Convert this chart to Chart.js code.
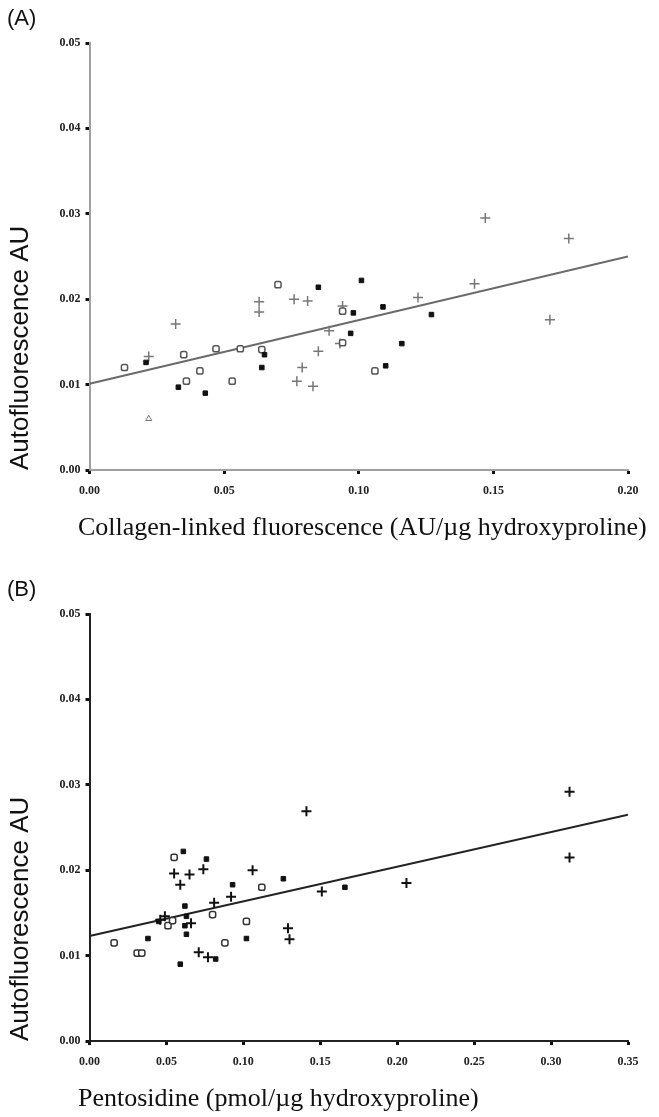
<!DOCTYPE html>
<html>
<head>
<meta charset="utf-8">
<script src="https://cdn.jsdelivr.net/npm/chart.js@4.4.1/dist/chart.umd.min.js"></script>
<style>
  html, body { margin: 0; padding: 0; background: #fff; }
  .panel { position: absolute; left: 0; width: 659px; }
</style>
</head>
<body>
<div class="panel" style="top:0; height:571px;"><canvas id="chartA"></canvas></div>
<div class="panel" style="top:571px; height:546px;"><canvas id="chartB"></canvas></div>
<script>
// Panel A: collagen-linked fluorescence vs autofluorescence
var aFilledX = [0.021, 0.033, 0.043, 0.064, 0.065, 0.085, 0.097, 0.098, 0.101, 0.109, 0.110, 0.116, 0.127];
var aFilledY = [0.0126, 0.0097, 0.0090, 0.0120, 0.0135, 0.0214, 0.0160, 0.0184, 0.0222, 0.0191, 0.0122, 0.0148, 0.0182];
var aOpenX = [0.013, 0.035, 0.036, 0.041, 0.047, 0.053, 0.056, 0.064, 0.070, 0.094, 0.094, 0.106];
var aOpenY = [0.0120, 0.0135, 0.0104, 0.0116, 0.0142, 0.0104, 0.0142, 0.0141, 0.0217, 0.0186, 0.0149, 0.0116];
var aPlusX = [0.022, 0.032, 0.063, 0.063, 0.076, 0.081, 0.089, 0.085, 0.079, 0.077, 0.083, 0.093, 0.094, 0.122, 0.143, 0.147, 0.171, 0.178];
var aPlusY = [0.0133, 0.0171, 0.0197, 0.0185, 0.0200, 0.0198, 0.0163, 0.0139, 0.0120, 0.0104, 0.0098, 0.0148, 0.0192, 0.0202, 0.0218, 0.0295, 0.0176, 0.0271];
var aOtherX = [0.022];
var aOtherY = [0.0060];
var aFitX = [0, 0.20];
var aFitY = [0.0101, 0.0250];
var aTicksX = [0, 0.05, 0.10, 0.15, 0.20];

// Panel B: pentosidine vs autofluorescence
var bFilledX = [0.038, 0.045, 0.061, 0.062, 0.063, 0.062, 0.063, 0.059, 0.076, 0.082, 0.093, 0.102, 0.126, 0.166];
var bFilledY = [0.0120, 0.0140, 0.0222, 0.0158, 0.0146, 0.0135, 0.0125, 0.0090, 0.0213, 0.0096, 0.0183, 0.0120, 0.0190, 0.0180];
var bOpenX = [0.016, 0.031, 0.034, 0.051, 0.054, 0.055, 0.080, 0.088, 0.102, 0.112];
var bOpenY = [0.0115, 0.0103, 0.0103, 0.0135, 0.0141, 0.0215, 0.0148, 0.0115, 0.0140, 0.0180];
var bPlusX = [0.046, 0.049, 0.055, 0.059, 0.065, 0.066, 0.071, 0.074, 0.077, 0.081, 0.092, 0.106, 0.129, 0.130, 0.141, 0.151, 0.206, 0.312, 0.312];
var bPlusY = [0.0142, 0.0146, 0.0196, 0.0183, 0.0195, 0.0138, 0.0104, 0.0201, 0.0098, 0.0162, 0.0169, 0.0200, 0.0132, 0.0119, 0.0269, 0.0175, 0.0185, 0.0292, 0.0215];
var bFitX = [0, 0.35];
var bFitY = [0.0123, 0.0265];
var bTicksX = [0, 0.05, 0.10, 0.15, 0.20, 0.25, 0.30, 0.35];

var yTicks = [0, 0.01, 0.02, 0.03, 0.04, 0.05];

function pts(xs, ys) {
  return xs.map(function (x, i) { return { x: x, y: ys[i] }; });
}

// panel letter and the left-aligned x axis title
var panelText = {
  id: 'panelText',
  afterDraw: function (chart, args, opts) {
    var ctx = chart.ctx;
    ctx.save();
    ctx.fillStyle = '#111';
    ctx.textBaseline = 'middle';
    ctx.textAlign = 'left';
    ctx.font = '22px "Liberation Sans", Arial, sans-serif';
    ctx.fillText(opts.label, 7, 19);
    ctx.font = '26px "Liberation Serif", "Times New Roman", serif';
    ctx.fillText(opts.xTitle, 78, chart.chartArea.bottom + 58);
    ctx.restore();
  }
};

function makeChart(id, cfg) {
  var ctx = document.getElementById(id).getContext('2d');
  var ticksX = cfg.ticksX;
  return new Chart(ctx, {
    type: 'scatter',
    data: {
      datasets: [{
        data: pts(cfg.filledX, cfg.filledY),
        pointStyle: 'rect', pointRadius: 3.2,
        backgroundColor: '#111', borderColor: '#111', borderWidth: 1
      }, {
        data: pts(cfg.openX, cfg.openY),
        pointStyle: 'rectRounded', pointRadius: 3.6,
        backgroundColor: '#fff', borderColor: cfg.openColor, borderWidth: 1.5
      }, {
        data: pts(cfg.plusX, cfg.plusY),
        pointStyle: 'cross', pointRadius: 5,
        borderColor: cfg.plusColor, borderWidth: cfg.plusWidth
      }, {
        data: pts(cfg.otherX, cfg.otherY),
        pointStyle: 'triangle', pointRadius: 3.5,
        backgroundColor: '#fff', borderColor: '#777', borderWidth: 1
      }, {
        type: 'line',
        data: pts(cfg.fitX, cfg.fitY),
        borderColor: cfg.lineColor, borderWidth: 2,
        pointRadius: 0, fill: false
      }]
    },
    options: {
      responsive: true,
      maintainAspectRatio: false,
      animation: false,
      layout: { padding: { left: 0, right: 31, top: 43, bottom: 0 } },
      plugins: {
        legend: { display: false },
        tooltip: { enabled: false },
        panelText: { label: cfg.label, xTitle: cfg.xTitle }
      },
      scales: {
        x: {
          type: 'linear', min: 0, max: ticksX[ticksX.length - 1],
          afterBuildTicks: function (axis) {
            axis.ticks = ticksX.map(function (v) { return { value: v }; });
          },
          afterFit: function (scale) { scale.height = cfg.xHeight; },
          border: { color: cfg.axisColor, width: 2 },
          grid: { drawOnChartArea: false, tickLength: 4, tickWidth: 3, tickColor: '#111' },
          ticks: {
            padding: 10, color: '#222', maxRotation: 0,
            font: { family: '"Liberation Serif", "Times New Roman", serif', size: 12, weight: 'bold' },
            callback: function (v) { return Number(v).toFixed(2); }
          }
        },
        y: {
          type: 'linear', min: 0, max: 0.05,
          afterBuildTicks: function (axis) {
            axis.ticks = yTicks.map(function (v) { return { value: v }; });
          },
          afterFit: function (scale) { scale.width = 89.5; },
          border: { color: cfg.axisColor, width: 2 },
          grid: { drawOnChartArea: false, tickLength: 4, tickWidth: 3, tickColor: '#111' },
          ticks: {
            padding: 5, color: '#222',
            font: { family: '"Liberation Serif", "Times New Roman", serif', size: 12, weight: 'bold' },
            callback: function (v) { return Number(v).toFixed(2); }
          },
          title: {
            display: true, text: 'Autofluorescence AU', color: '#111', align: 'start',
            font: { family: '"Liberation Sans", Arial, sans-serif', size: 26 },
            padding: { top: 5, bottom: 0 }
          }
        }
      }
    },
    plugins: [panelText]
  });
}

makeChart('chartA', {
  label: '(A)',
  filledX: aFilledX, filledY: aFilledY,
  openX: aOpenX, openY: aOpenY,
  plusX: aPlusX, plusY: aPlusY,
  otherX: aOtherX, otherY: aOtherY,
  fitX: aFitX, fitY: aFitY,
  ticksX: aTicksX,
  xTitle: 'Collagen-linked fluorescence (AU/\u00b5g hydroxyproline)',
  xHeight: 101,
  axisColor: '#a0a0a0', lineColor: '#6a6a6a',
  openColor: '#555', plusColor: '#777', plusWidth: 1.5
});

makeChart('chartB', {
  label: '(B)',
  filledX: bFilledX, filledY: bFilledY,
  openX: bOpenX, openY: bOpenY,
  plusX: bPlusX, plusY: bPlusY,
  otherX: [], otherY: [],
  fitX: bFitX, fitY: bFitY,
  ticksX: bTicksX,
  xTitle: 'Pentosidine (pmol/\u00b5g hydroxyproline)',
  xHeight: 76,
  axisColor: '#222', lineColor: '#222',
  openColor: '#333', plusColor: '#111', plusWidth: 2
});
</script>
</body>
</html>
